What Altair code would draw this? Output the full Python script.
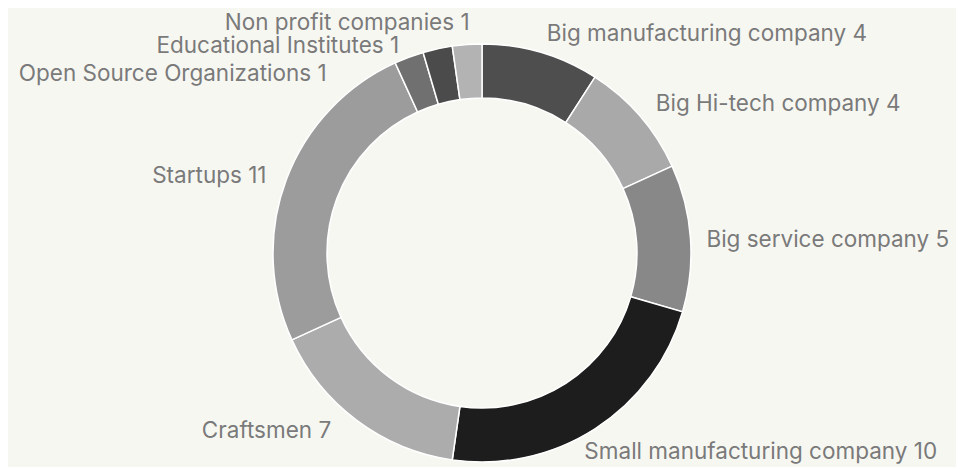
import math
import altair as alt
import pandas as pd

categories = [
    "Big manufacturing company",
    "Big Hi-tech company",
    "Big service company",
    "Small manufacturing company",
    "Craftsmen",
    "Startups",
    "Open Source Organizations",
    "Educational Institutes",
    "Non profit companies",
]
counts = [4, 4, 5, 10, 7, 11, 1, 1, 1]
shades = ["#4e4e4e", "#a9a9a9", "#888888", "#1d1d1d", "#acacac", "#9c9c9c",
          "#707070", "#4b4b4b", "#b3b3b3"]

df = pd.DataFrame({"category": categories, "count": counts,
                   "idx": list(range(len(categories)))})
total = sum(counts)
theta_scale = alt.Scale(domain=[0, total], range=[0, 2 * math.pi])

base = alt.Chart(df)

arcs = base.mark_arc(innerRadius=155, outerRadius=209, stroke="#ffffff",
                     strokeWidth=1.5).encode(
    theta=alt.Theta("count:Q", stack=True, scale=theta_scale),
    order=alt.Order("idx:Q", sort="ascending"),
    color=alt.Color("category:N", scale=alt.Scale(domain=categories, range=shades),
                    legend=None),
)


def labels(names, align, dx=0, dy=0):
    return (
        base.transform_window(cum="sum(count)", sort=[alt.SortField("idx", order="ascending")])
        .transform_calculate(mid="datum.cum - datum.count / 2",
                             label="datum.category + ' ' + datum.count")
        .transform_filter(alt.FieldOneOfPredicate(field="category", oneOf=names))
        .mark_text(radius=230, align=align, baseline="middle", dx=dx, dy=dy,
                   font="Inter", fontSize=22.5, color="#7a7a7a")
        .encode(theta=alt.Theta("mid:Q", scale=theta_scale), text="label:N")
    )


layers = [
    arcs,
    labels(["Big manufacturing company", "Big Hi-tech company"], "left", dy=2),
    labels(["Big service company"], "left", dx=-5, dy=3),
    labels(["Small manufacturing company"], "left", dx=-22, dy=6),
    labels(["Craftsmen"], "right", dx=-13, dy=-6),
    labels(["Startups"], "right", dy=3),
    labels(["Open Source Organizations"], "right", dx=-75, dy=36),
    labels(["Educational Institutes"], "right", dx=-34, dy=18),
    labels(["Non profit companies"], "right", dx=4, dy=-1),
]

chart = alt.layer(*layers).properties(
    width=948, height=418, autosize="none",
    padding={"left": 0, "top": 36, "right": 0, "bottom": 5},
    background="#f7f7f2",
).configure_view(stroke=None)

chart.save("out.html", embed_options={"renderer": "svg", "actions": False})
